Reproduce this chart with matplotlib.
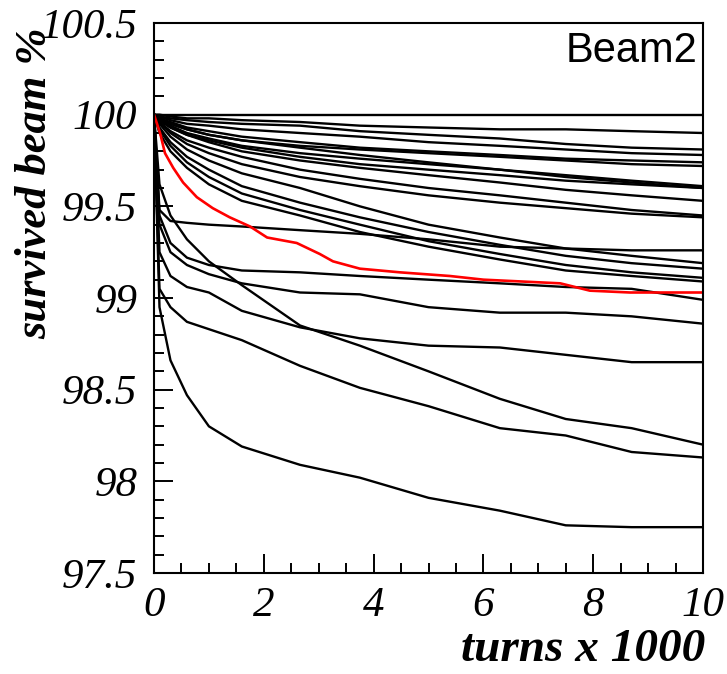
import matplotlib
matplotlib.use("Agg")
import matplotlib.pyplot as plt
from matplotlib.ticker import MultipleLocator

# turns (x 1000) at which the black curves are sampled
turns = [0, 0.1, 0.3, 0.6, 1.0, 1.6, 2.66, 3.75, 5.0, 6.3, 7.5, 8.7, 10]

# survived beam % for each black curve
curves = [
    [100, 100, 100, 100, 100, 100, 100, 100, 100, 100, 100, 100, 100],
    [100, 100, 99.99, 99.98, 99.98, 99.97, 99.96, 99.94, 99.93, 99.92, 99.92, 99.91, 99.90],
    [100, 99.99, 99.98, 99.97, 99.96, 99.95, 99.94, 99.91, 99.89, 99.87, 99.84, 99.82, 99.81],
    [100, 99.99, 99.97, 99.95, 99.94, 99.92, 99.90, 99.88, 99.85, 99.83, 99.81, 99.79, 99.78],
    [100, 99.98, 99.96, 99.93, 99.91, 99.88, 99.85, 99.82, 99.80, 99.78, 99.76, 99.75, 99.74],
    [100, 99.98, 99.95, 99.92, 99.89, 99.86, 99.83, 99.81, 99.79, 99.77, 99.75, 99.73, 99.72],
    [100, 99.98, 99.95, 99.92, 99.89, 99.86, 99.82, 99.78, 99.74, 99.70, 99.67, 99.64, 99.61],
    [100, 99.97, 99.94, 99.90, 99.87, 99.83, 99.79, 99.76, 99.73, 99.70, 99.66, 99.63, 99.60],
    [100, 99.97, 99.93, 99.89, 99.86, 99.82, 99.77, 99.73, 99.70, 99.67, 99.64, 99.62, 99.60],
    [100, 99.97, 99.93, 99.89, 99.85, 99.80, 99.75, 99.71, 99.67, 99.63, 99.59, 99.56, 99.53],
    [100, 99.96, 99.91, 99.86, 99.82, 99.77, 99.70, 99.65, 99.60, 99.56, 99.52, 99.48, 99.45],
    [100, 99.96, 99.90, 99.84, 99.79, 99.73, 99.66, 99.61, 99.56, 99.52, 99.49, 99.46, 99.44],
    [100, 99.95, 99.88, 99.81, 99.75, 99.68, 99.60, 99.50, 99.40, 99.33, 99.27, 99.23, 99.19],
    [100, 99.93, 99.85, 99.77, 99.70, 99.61, 99.52, 99.44, 99.36, 99.29, 99.23, 99.19, 99.16],
    [100, 99.92, 99.83, 99.74, 99.66, 99.57, 99.48, 99.40, 99.31, 99.24, 99.18, 99.14, 99.11],
    [100, 99.90, 99.80, 99.71, 99.62, 99.53, 99.45, 99.36, 99.28, 99.21, 99.15, 99.12, 99.09],
    [100, 99.48, 99.42, 99.41, 99.40, 99.39, 99.37, 99.35, 99.32, 99.28, 99.27, 99.26, 99.26],
    [100, 99.45, 99.30, 99.22, 99.18, 99.15, 99.14, 99.12, 99.10, 99.08, 99.06, 99.05, 98.99],
    [100, 99.40, 99.25, 99.18, 99.13, 99.08, 99.03, 99.02, 98.95, 98.92, 98.92, 98.90, 98.86],
    [100, 99.62, 99.45, 99.32, 99.20, 99.07, 98.85, 98.74, 98.60, 98.45, 98.34, 98.29, 98.20],
    [100, 99.25, 99.12, 99.06, 99.03, 98.93, 98.84, 98.78, 98.74, 98.73, 98.69, 98.65, 98.65],
    [100, 99.05, 98.95, 98.87, 98.83, 98.77, 98.63, 98.51, 98.41, 98.29, 98.25, 98.16, 98.13],
    [100, 98.95, 98.66, 98.47, 98.30, 98.19, 98.09, 98.02, 97.91, 97.84, 97.76, 97.75, 97.75],
]

# the highlighted (red) curve
red_turns = [0, 0.11, 0.2, 0.35, 0.53, 0.78, 1.07, 1.38, 1.75, 2.06, 2.6, 3.02, 3.26,
             3.75, 4.48, 5.39, 6.0, 7.4, 7.94, 8.67, 10]
red_beam = [100, 99.90, 99.79, 99.71, 99.63, 99.55, 99.49, 99.44, 99.39, 99.33, 99.30,
            99.24, 99.20, 99.16, 99.14, 99.12, 99.10, 99.08, 99.04, 99.03, 99.03]

fig = plt.figure(figsize=(7.27, 6.74), dpi=100)
ax = fig.add_axes([154 / 727, 1 - 573 / 674, 549 / 727, 550 / 674])

for c in curves:
    ax.plot(turns, c, color="black", lw=1.7)
ax.plot(red_turns, red_beam, color="red", lw=1.9)

ax.set_xlim(0, 10)
ax.set_ylim(97.5, 100.5)
ax.xaxis.set_major_locator(MultipleLocator(2))
ax.xaxis.set_minor_locator(MultipleLocator(0.5))
ax.yaxis.set_major_locator(MultipleLocator(0.5))
ax.yaxis.set_minor_locator(MultipleLocator(0.1))
ax.tick_params(which="both", direction="in", top=False, right=False, width=1.4)
ax.tick_params(which="major", length=14)
ax.tick_params(which="minor", length=7.5)
ax.tick_params(axis="y", which="major", pad=12)
ax.tick_params(axis="x", which="major", pad=10)
for s in ax.spines.values():
    s.set_linewidth(1.5)

ax.set_xticks([0, 2, 4, 6, 8, 10])
ax.set_xticklabels(["0", "2", "4", "6", "8", "10"])
ax.set_yticks([97.5, 98, 98.5, 99, 99.5, 100, 100.5])
ax.set_yticklabels(["97.5", "98", "98.5", "99", "99.5", "100", "100.5"])
for lab in ax.get_xticklabels() + ax.get_yticklabels():
    lab.set_fontfamily("Liberation Serif")
    lab.set_fontstyle("italic")
    lab.set_fontsize(31)

fig.text(35 / 727, 1 - 183 / 674, "survived beam %", rotation=90, ha="center", va="center",
         family="Liberation Serif", style="italic", weight="bold", fontsize=32)
fig.text(705 / 727, 1 - 661 / 674, "turns x 1000", ha="right", va="baseline",
         family="Liberation Serif", style="italic", weight="bold", fontsize=34)
ax.text(0.99, 0.93, "Beam2", transform=ax.transAxes, ha="right", va="baseline",
        family="Liberation Sans", fontsize=30)

fig.savefig("out.png", dpi=100)
